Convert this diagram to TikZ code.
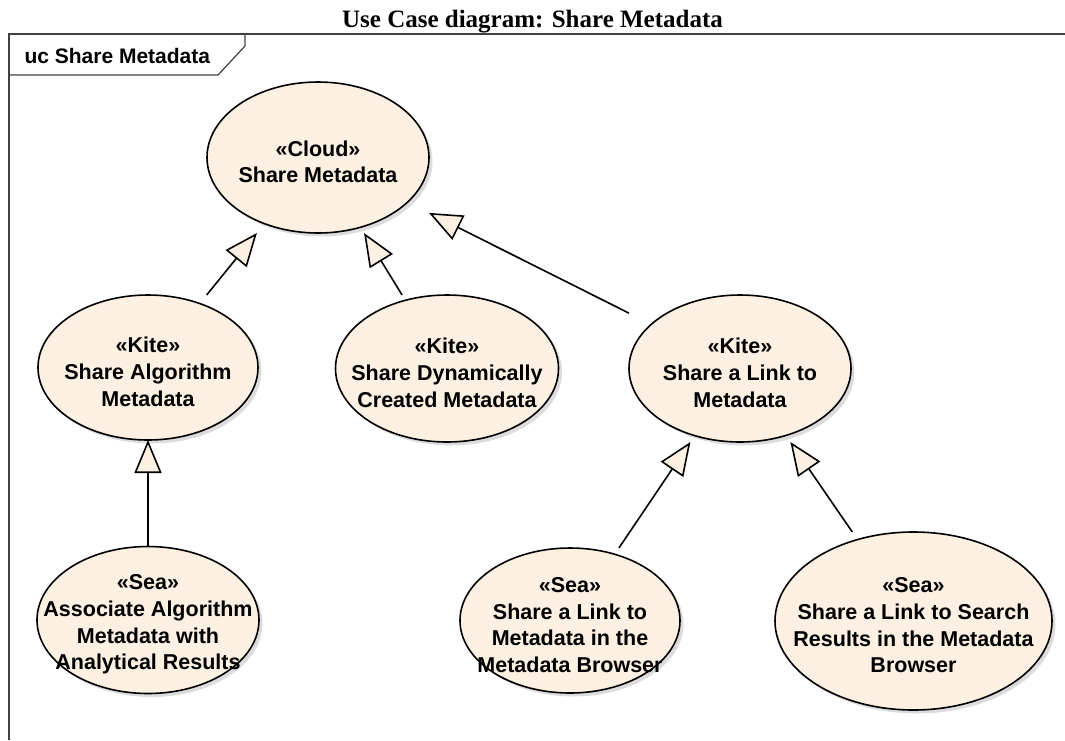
\documentclass[tikz,border=0pt]{standalone}
\usepackage{fontspec}
\setmainfont{Liberation Serif}
\newfontfamily\ucfont{Liberation Sans}
\usepackage{xcolor}
\usepackage{tikz}
\usetikzlibrary{
  arrows.meta, calc, backgrounds, shadows
}
\definecolor{ucfill}{HTML}{FBF0E2}
\definecolor{ucshade}{HTML}{B9B9B9}
\definecolor{ucframe}{HTML}{404040}
% stereotype line, a little taller so the text sits low in the ellipse
\newcommand{\stereo}[1]{\rule{0pt}{24pt}«#1»}

\begin{document}
\begin{tikzpicture}[
  x=1pt, y=-1pt,
  usecase/.style={
    rectangle, inner sep=0pt, outer sep=0pt, align=center,
    font=\ucfont\bfseries\fontsize{21.5}{26.7}\selectfont
  },
  ucshape/.style={
    draw=black, line width=1.6pt, fill=ucfill,
    drop shadow={shadow xshift=3.5pt, shadow yshift=-3.5pt, fill=ucshade}
  },
  gen/.style={-{Triangle[length=33pt, width=27pt, fill=ucfill]}, line width=1.6pt},
  frameline/.style={draw=ucframe, line width=1.2pt},
]
\useasboundingbox (0,0) rectangle (1065,740);

% Title
\node[font=\bfseries\fontsize{25}{30}\selectfont, anchor=base] (title) at (532.5,27)
  {Use Case diagram: Share Metadata};

% Frame and its name tab
\draw[frameline] (1065,34) -- (9,34) -- (9,740);
\draw[frameline] (9,75) -- (218,75) -- (245,46) -- (245,34);
\node[font=\ucfont\bfseries\fontsize{21}{25}\selectfont, anchor=base west] (frametitle) at (21,63)
  {uc Share Metadata};

% Use cases (top)
\node[usecase, minimum width=222pt, minimum height=151pt] (share) at (318,157.5)
  {\stereo{Cloud}\\Share Metadata};

% Use cases (middle)
\node[usecase, minimum width=220pt, minimum height=145pt] (algo) at (148,367.5)
  {\stereo{Kite}\\Share Algorithm\\Metadata};
\node[usecase, minimum width=223pt, minimum height=147pt] (dyn) at (447,368.5)
  {\stereo{Kite}\\Share Dynamically\\Created Metadata};
\node[usecase, minimum width=222pt, minimum height=147pt] (link) at (740,368.5)
  {\stereo{Kite}\\Share a Link to\\Metadata};

% Use cases (bottom)
\node[usecase, minimum width=222pt, minimum height=147pt] (assoc) at (148,620)
  {\stereo{Sea}\\Associate Algorithm\\Metadata with\\Analytical Results};
\node[usecase, minimum width=220pt, minimum height=145pt] (browser) at (570,620.5)
  {\stereo{Sea}\\Share a Link to\\Metadata in the\\Metadata Browser};
\node[usecase, minimum width=277pt, minimum height=178pt] (search) at (913.5,621)
  {\stereo{Sea}\\Share a Link to Search\\Results in the Metadata\\Browser};

% Ellipses behind the texts
\begin{scope}[on background layer]
  \foreach \uc in {share, algo, dyn, link, assoc, browser, search}
    \path[ucshape] let \p1 = (\uc.north east), \p2 = (\uc.center) in
      (\p2) ellipse ({\x1-\x2} and {\y1-\y2});
\end{scope}

% Generalizations
\draw[gen] (algo) -- (share);
\draw[gen] (dyn) -- (share);
\draw[gen] (link) -- (share);
\draw[gen] (assoc) -- (algo);
\draw[gen] (browser) -- (link);
\draw[gen] (search) -- (link);
\end{tikzpicture}
\end{document}
